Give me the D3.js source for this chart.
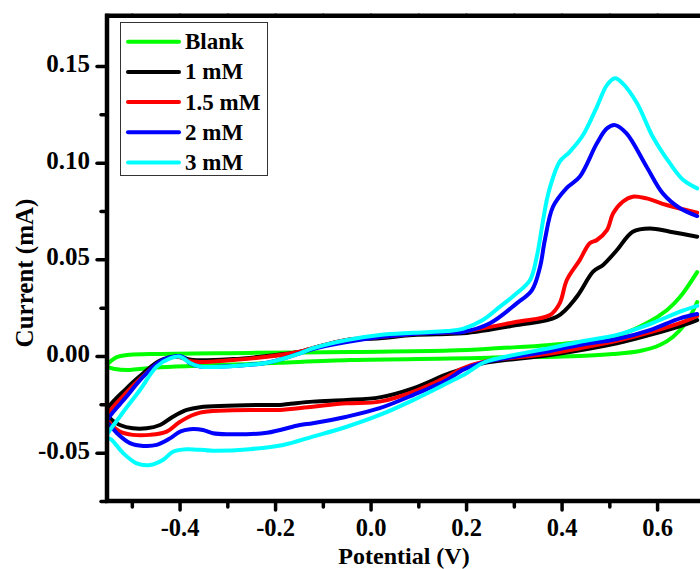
<!DOCTYPE html>
<html>
<head>
<meta charset="utf-8">
<script src="https://cdn.jsdelivr.net/npm/d3@7/dist/d3.min.js"></script>
<style>
  html, body { margin: 0; padding: 0; background: #fff; }
  svg { display: block; }
</style>
</head>
<body>
<svg id="chart" width="700" height="569"></svg>
<script>
// Cyclic voltammograms: potential (V) vs current (mA).
// Each scan is stored as a forward (anodic) branch and a reverse (cathodic) branch of [potential, current] pairs.

const seriesNames = ["Blank", "1 mM", "1.5 mM", "2 mM", "3 mM"];
const seriesColors = ["#00ff00", "#000000", "#ff0000", "#0000ff", "#00ffff"];

const blankForward = [
  [-0.552, -0.0052], [-0.535, -0.0010], [-0.510, 0.0005], [-0.462, 0.0010], [-0.253, 0.0016],
  [-0.043, 0.0021], [0.166, 0.0028], [0.271, 0.0041], [0.376, 0.0057], [0.507, 0.0098],
  [0.579, 0.0171], [0.621, 0.0238], [0.648, 0.0305], [0.684, 0.0434]
];
const blankReverse = [
  [0.684, 0.0279], [0.662, 0.0176], [0.633, 0.0098], [0.606, 0.0057], [0.564, 0.0026],
  [0.507, 0.0010], [0.438, 0.0000], [0.369, -0.0005], [0.298, -0.0005], [0.229, -0.0010],
  [0.166, -0.0013], [-0.043, -0.0021], [-0.190, -0.0035], [-0.253, -0.0041], [-0.462, -0.0062],
  [-0.504, -0.0072], [-0.535, -0.0067], [-0.552, -0.0052]
];

const mM1Forward = [
  [-0.553, -0.0288], [-0.511, -0.0167], [-0.476, -0.0089], [-0.441, -0.0024], [-0.406, -0.0004],
  [-0.372, -0.0021], [-0.288, -0.0016], [-0.217, 0.0000], [-0.148, 0.0022], [-0.121, 0.0041],
  [-0.050, 0.0083], [0.019, 0.0092], [0.089, 0.0109], [0.160, 0.0114], [0.193, 0.0117],
  [0.306, 0.0160], [0.390, 0.0203], [0.432, 0.0307], [0.466, 0.0436], [0.487, 0.0471],
  [0.516, 0.0548], [0.549, 0.0643], [0.585, 0.0660], [0.627, 0.0643], [0.684, 0.0617]
];
const mM1Reverse = [
  [0.684, 0.0186], [0.655, 0.0160], [0.585, 0.0109], [0.516, 0.0066], [0.376, 0.0005],
  [0.235, -0.0038], [0.166, -0.0089], [0.089, -0.0167], [0.019, -0.0214], [-0.050, -0.0228],
  [-0.121, -0.0236], [-0.190, -0.0253], [-0.217, -0.0253], [-0.357, -0.0265], [-0.385, -0.0279],
  [-0.414, -0.0314], [-0.441, -0.0357], [-0.469, -0.0374], [-0.498, -0.0374], [-0.525, -0.0357],
  [-0.542, -0.0331], [-0.553, -0.0288]
];

const mM15Forward = [
  [-0.552, -0.0315], [-0.510, -0.0186], [-0.476, -0.0103], [-0.441, -0.0031], [-0.406, -0.0004],
  [-0.372, -0.0029], [-0.288, -0.0021], [-0.217, -0.0004], [-0.148, 0.0022], [-0.121, 0.0041],
  [-0.050, 0.0083], [0.019, 0.0098], [0.089, 0.0114], [0.160, 0.0122], [0.193, 0.0126],
  [0.306, 0.0177], [0.376, 0.0212], [0.396, 0.0272], [0.411, 0.0393], [0.438, 0.0496],
  [0.459, 0.0583], [0.474, 0.0600], [0.495, 0.0651], [0.508, 0.0738], [0.528, 0.0798],
  [0.549, 0.0824], [0.578, 0.0815], [0.620, 0.0781], [0.684, 0.0741]
];
const mM15Reverse = [
  [0.684, 0.0207], [0.655, 0.0176], [0.585, 0.0122], [0.516, 0.0078], [0.438, 0.0040],
  [0.376, 0.0013], [0.235, -0.0031], [0.193, -0.0064], [0.160, -0.0107], [0.089, -0.0185],
  [0.019, -0.0236], [-0.050, -0.0245], [-0.121, -0.0262], [-0.190, -0.0279], [-0.217, -0.0279],
  [-0.357, -0.0293], [-0.399, -0.0340], [-0.427, -0.0391], [-0.462, -0.0408], [-0.498, -0.0408],
  [-0.525, -0.0391], [-0.542, -0.0357], [-0.552, -0.0315]
];

const mM2Forward = [
  [-0.552, -0.0340], [-0.511, -0.0210], [-0.476, -0.0107], [-0.441, -0.0029], [-0.406, 0.0000],
  [-0.393, -0.0005], [-0.378, -0.0038], [-0.357, -0.0055], [-0.288, -0.0052], [-0.217, -0.0035],
  [-0.148, 0.0014], [-0.121, 0.0036], [-0.050, 0.0072], [0.019, 0.0098], [0.089, 0.0114],
  [0.160, 0.0122], [0.193, 0.0124], [0.250, 0.0169], [0.306, 0.0272], [0.338, 0.0341],
  [0.355, 0.0462], [0.365, 0.0600], [0.382, 0.0772], [0.410, 0.0867], [0.438, 0.0927],
  [0.474, 0.1100], [0.495, 0.1177], [0.512, 0.1194], [0.536, 0.1151], [0.578, 0.0979],
  [0.612, 0.0841], [0.648, 0.0764], [0.684, 0.0724]
];
const mM2Reverse = [
  [0.684, 0.0217], [0.648, 0.0195], [0.585, 0.0134], [0.516, 0.0088], [0.438, 0.0057],
  [0.376, 0.0026], [0.235, -0.0034], [0.193, -0.0072], [0.160, -0.0124], [0.089, -0.0202],
  [0.019, -0.0270], [-0.050, -0.0314], [-0.121, -0.0348], [-0.148, -0.0357], [-0.217, -0.0397],
  [-0.301, -0.0405], [-0.330, -0.0400], [-0.351, -0.0383], [-0.378, -0.0379], [-0.399, -0.0391],
  [-0.420, -0.0426], [-0.448, -0.0460], [-0.476, -0.0465], [-0.504, -0.0451], [-0.531, -0.0400],
  [-0.546, -0.0357], [-0.552, -0.0340]
];

const mM3Forward = [
  [-0.552, -0.0417], [-0.525, -0.0314], [-0.483, -0.0176], [-0.448, -0.0055], [-0.420, -0.0012],
  [-0.399, -0.0004], [-0.378, -0.0036], [-0.357, -0.0055], [-0.288, -0.0052], [-0.217, -0.0035],
  [-0.148, 0.0014], [-0.121, 0.0040], [-0.050, 0.0083], [0.019, 0.0109], [0.089, 0.0120],
  [0.160, 0.0129], [0.193, 0.0140], [0.235, 0.0186], [0.271, 0.0255], [0.306, 0.0324],
  [0.334, 0.0393], [0.348, 0.0513], [0.359, 0.0669], [0.369, 0.0807], [0.376, 0.0875],
  [0.396, 0.1005], [0.417, 0.1056], [0.445, 0.1143], [0.474, 0.1289], [0.495, 0.1401],
  [0.512, 0.1436], [0.528, 0.1410], [0.558, 0.1307], [0.591, 0.1134], [0.627, 0.0996],
  [0.655, 0.0910], [0.684, 0.0867]
];
const mM3Reverse = [
  [0.684, 0.0259], [0.648, 0.0229], [0.585, 0.0165], [0.516, 0.0109], [0.438, 0.0074],
  [0.376, 0.0041], [0.271, -0.0010], [0.235, -0.0036], [0.201, -0.0089], [0.160, -0.0141],
  [0.089, -0.0228], [0.019, -0.0305], [-0.050, -0.0366], [-0.121, -0.0417], [-0.183, -0.0460],
  [-0.253, -0.0482], [-0.330, -0.0490], [-0.385, -0.0482], [-0.414, -0.0495], [-0.435, -0.0538],
  [-0.462, -0.0564], [-0.490, -0.0555], [-0.518, -0.0503], [-0.542, -0.0434], [-0.552, -0.0417]
];

const potentialTicks = [-0.4, -0.2, 0.0, 0.2, 0.4, 0.6];
const potentialTickLabels = ["-0.4", "-0.2", "0.0", "0.2", "0.4", "0.6"];
const potentialMinorTicks = [-0.5, -0.3, -0.1, 0.1, 0.3, 0.5, 0.7];
const currentTicks = [-0.05, 0.00, 0.05, 0.10, 0.15];
const currentTickLabels = ["-0.05", "0.00", "0.05", "0.10", "0.15"];
const currentMinorTicks = [-0.075, -0.025, 0.025, 0.075, 0.125];

const scans = [
  { name: seriesNames[0], color: seriesColors[0], forward: blankForward, reverse: blankReverse },
  { name: seriesNames[1], color: seriesColors[1], forward: mM1Forward, reverse: mM1Reverse },
  { name: seriesNames[2], color: seriesColors[2], forward: mM15Forward, reverse: mM15Reverse },
  { name: seriesNames[3], color: seriesColors[3], forward: mM2Forward, reverse: mM2Reverse },
  { name: seriesNames[4], color: seriesColors[4], forward: mM3Forward, reverse: mM3Reverse }
];

const FONT = "'Liberation Serif', 'Times New Roman', serif";
const svg = d3.select("#chart");

const plot = { left: 107, top: 15.7, bottom: 501 };
const x = d3.scaleLinear().domain([-0.552, 0.72]).range([plot.left, plot.left + 477.5 * 1.272]);
const y = d3.scaleLinear().domain([-0.075, 0.176]).range([plot.bottom, plot.top]);

// clip region for the traces
svg.append("defs").append("clipPath").attr("id", "plotClip")
  .append("rect").attr("x", plot.left).attr("y", plot.top)
  .attr("width", 700 - plot.left).attr("height", plot.bottom - plot.top);

// traces: reverse branch from right end down to the left vertex, then the forward branch back out
const line = d3.line()
  .x(d => x(d[0]))
  .y(d => y(d[1]))
  .curve(d3.curveCatmullRom.alpha(0.5));

const traces = svg.append("g").attr("clip-path", "url(#plotClip)");
scans.forEach(s => {
  const loop = s.reverse.concat(s.forward.slice(1));
  traces.append("path")
    .attr("d", line(loop))
    .attr("fill", "none")
    .attr("stroke", s.color)
    .attr("stroke-width", 4)
    .attr("stroke-linecap", "round")
    .attr("stroke-linejoin", "round");
});

// axes
function styleAxis(g, width) {
  g.select(".domain").remove();
  g.selectAll(".tick line")
    .attr("stroke", "#000")
    .attr("stroke-width", width)
    .attr("stroke-linecap", "round");
}

const xMajor = svg.append("g").attr("transform", `translate(0,${plot.bottom})`)
  .call(d3.axisBottom(x).tickValues(potentialTicks)
    .tickFormat((d, i) => potentialTickLabels[i]).tickSize(9));
styleAxis(xMajor, 3.5);
xMajor.selectAll(".tick text")
  .attr("font-family", FONT).attr("font-weight", "bold").attr("font-size", 24.5)
  .attr("fill", "#000").attr("y", 34.5).attr("dy", 0);

const xMinor = svg.append("g").attr("transform", `translate(0,${plot.bottom})`)
  .call(d3.axisBottom(x).tickValues(potentialMinorTicks).tickFormat("").tickSize(6));
styleAxis(xMinor, 3.5);

const yMajor = svg.append("g").attr("transform", `translate(${plot.left},0)`)
  .call(d3.axisLeft(y).tickValues(currentTicks)
    .tickFormat((d, i) => currentTickLabels[i]).tickSize(10).tickPadding(7));
styleAxis(yMajor, 3.5);
yMajor.selectAll(".tick text")
  .attr("font-family", FONT).attr("font-weight", "bold").attr("font-size", 25)
  .attr("fill", "#000").attr("dy", "0.22em");

const yMinor = svg.append("g").attr("transform", `translate(${plot.left},0)`)
  .call(d3.axisLeft(y).tickValues(currentMinorTicks).tickFormat("").tickSize(6));
styleAxis(yMinor, 3.5);

// small marks along the top edge
const xTop = svg.append("g").attr("transform", `translate(0,${plot.top})`)
  .call(d3.axisTop(x).tickValues(potentialTicks.concat(potentialMinorTicks)).tickFormat("").tickSize(2.5));
xTop.select(".domain").remove();
xTop.selectAll(".tick line").attr("stroke", "#666").attr("stroke-width", 1.5);

// frame lines
svg.append("line").attr("x1", plot.left).attr("x2", plot.left)
  .attr("y1", plot.top - 2).attr("y2", plot.bottom + 2)
  .attr("stroke", "#000").attr("stroke-width", 4.5);
svg.append("line").attr("x1", plot.left - 2).attr("x2", 700)
  .attr("y1", plot.bottom).attr("y2", plot.bottom)
  .attr("stroke", "#000").attr("stroke-width", 4.5);
svg.append("line").attr("x1", plot.left - 2).attr("x2", 700)
  .attr("y1", plot.top).attr("y2", plot.top)
  .attr("stroke", "#000").attr("stroke-width", 4.5);

// axis titles
svg.append("text")
  .attr("x", 404).attr("y", 563.5)
  .attr("text-anchor", "middle")
  .attr("font-family", FONT).attr("font-weight", "bold").attr("font-size", 24)
  .text("Potential (V)");

svg.append("text")
  .attr("transform", "translate(33,273) rotate(-90)")
  .attr("text-anchor", "middle")
  .attr("font-family", FONT).attr("font-weight", "bold").attr("font-size", 25)
  .text("Current (mA)");

// legend
const legend = svg.append("g");
legend.append("rect")
  .attr("x", 120.5).attr("y", 22.5).attr("width", 147).attr("height", 153)
  .attr("fill", "#fff").attr("stroke", "#333").attr("stroke-width", 1);
scans.forEach((s, i) => {
  const rowY = 41.7 + i * 30.2;
  legend.append("line")
    .attr("x1", 128).attr("x2", 179).attr("y1", rowY).attr("y2", rowY)
    .attr("stroke", s.color).attr("stroke-width", 4).attr("stroke-linecap", "round");
  legend.append("text")
    .attr("x", 185).attr("y", rowY).attr("dy", "0.33em")
    .attr("font-family", FONT).attr("font-weight", "bold").attr("font-size", 23)
    .text(s.name);
});
</script>
</body>
</html>
